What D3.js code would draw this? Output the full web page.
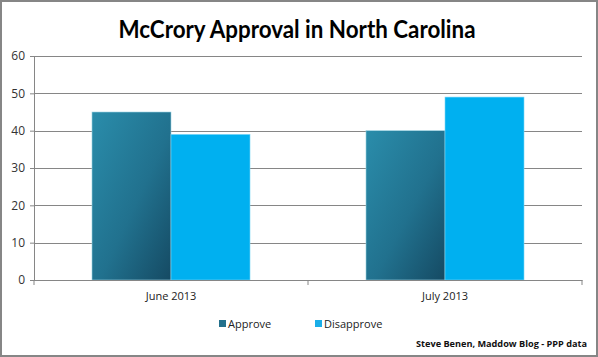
<!DOCTYPE html>
<html><head><meta charset="utf-8">
<script src="https://cdn.jsdelivr.net/npm/d3@7"></script>
<style>body{margin:0;background:#fff}svg{display:block}</style>
</head><body>
<svg id="c" width="598" height="357"></svg>
<script>
const categories = ["June 2013", "July 2013"];
const seriesNames = ["Approve", "Disapprove"];
const approveValues = [45, 40];
const disapproveValues = [39, 49];
const yTicks = [0, 10, 20, 30, 40, 50, 60];
const title = "McCrory Approval in North Carolina";
const source = "Steve Benen, Maddow Blog - PPP data";

const svg = d3.select("#c");
const W = 598, H = 357;
const m = {l: 34, r: 16, t: 56, b: 77};
const x0 = d3.scaleBand().domain(categories).range([m.l, W - m.r]).paddingInner(0).paddingOuter(0);
const x1 = d3.scaleBand().domain(seriesNames).range([0, x0.bandwidth()]).paddingInner(0).paddingOuter(0.734);
const y = d3.scaleLinear().domain([0, 60]).range([H - m.b, m.t]);

const defs = svg.append("defs");
const g = defs.append("linearGradient").attr("id", "gA").attr("x1", "0").attr("y1", "0").attr("x2", "1").attr("y2", "1");
g.append("stop").attr("offset", "0%").attr("stop-color", "#2a8dab");
g.append("stop").attr("offset", "55%").attr("stop-color", "#21718e");
g.append("stop").attr("offset", "100%").attr("stop-color", "#154a63");

svg.append("rect").attr("x", 1).attr("y", 1).attr("width", W - 2).attr("height", H - 2)
  .attr("fill", "#fff").attr("stroke", "#868686").attr("stroke-width", 2);

svg.append("text").attr("x", 297).attr("y", 38).attr("text-anchor", "middle")
  .attr("font-family", "Lato, 'Open Sans', sans-serif").attr("font-weight", "bold")
  .attr("font-size", 25).attr("fill", "#000")
  .attr("textLength", 357).attr("lengthAdjust", "spacingAndGlyphs").text(title);

const yAxis = d3.axisLeft(y).tickValues(yTicks).tickSize(4).tickPadding(5);
const ga = svg.append("g").attr("transform", `translate(${m.l},0)`).call(yAxis);
ga.select(".domain").attr("stroke", "#868686");
ga.selectAll(".tick line").attr("stroke", "#868686");
ga.selectAll(".tick text").attr("font-family", "'Open Sans', sans-serif").attr("font-size", 12).attr("fill", "#333");
svg.append("g").selectAll("line").data(yTicks).join("line")
  .attr("x1", m.l).attr("x2", W - m.r).attr("y1", d => Math.round(y(d)) + 0.5).attr("y2", d => Math.round(y(d)) + 0.5)
  .attr("stroke", "#868686");

const data = categories.map((c, i) => ({c, vals: [approveValues[i], disapproveValues[i]]}));
const grp = svg.append("g").selectAll("g").data(data).join("g")
  .attr("transform", d => `translate(${x0(d.c)},0)`);
grp.selectAll("rect").data(d => d.vals.map((v, j) => ({v, s: seriesNames[j]}))).join("rect")
  .attr("x", d => x1(d.s)).attr("width", x1.bandwidth())
  .attr("y", d => y(d.v)).attr("height", d => y(0) - y(d.v))
  .attr("fill", d => d.s === "Approve" ? "url(#gA)" : "#00b0f0")
  .attr("stroke", d => d.s === "Approve" ? "#9fd4e3" : "#7fd6f6").attr("stroke-width", 0.6);

const xAxis = d3.axisBottom(x0).tickSize(0).tickPadding(12);
const gx = svg.append("g").attr("transform", `translate(0,${y(0)})`).call(xAxis);
gx.select(".domain").attr("stroke", "#868686");
gx.selectAll(".tick text").attr("font-family", "'Open Sans', sans-serif").attr("font-size", 11).attr("fill", "#222");
svg.append("g").selectAll("line").data([m.l, ...categories.map(c => x0(c) + x0.bandwidth())]).join("line")
  .attr("x1", d => d).attr("x2", d => d).attr("y1", y(0)).attr("y2", y(0) + 5).attr("stroke", "#868686");

const legX = [219, 315];
const leg = svg.append("g").selectAll("g").data(seriesNames).join("g")
  .attr("transform", (d, i) => `translate(${legX[i]},320)`);
leg.append("rect").attr("width", 7).attr("height", 7).attr("y", 0)
  .attr("fill", (d, i) => i === 0 ? "#23708c" : "#1aaee8");
leg.append("text").attr("x", 9).attr("y", 7.5)
  .attr("font-family", "'Open Sans', sans-serif").attr("font-size", 11).attr("fill", "#222").text(d => d);

svg.append("text").attr("x", 587).attr("y", 347).attr("text-anchor", "end")
  .attr("font-family", "'Open Sans', sans-serif").attr("font-weight", "bold").attr("font-size", 9.5)
  .attr("fill", "#111").attr("textLength", 171).attr("lengthAdjust", "spacingAndGlyphs").text(source);
</script>
</body></html>
